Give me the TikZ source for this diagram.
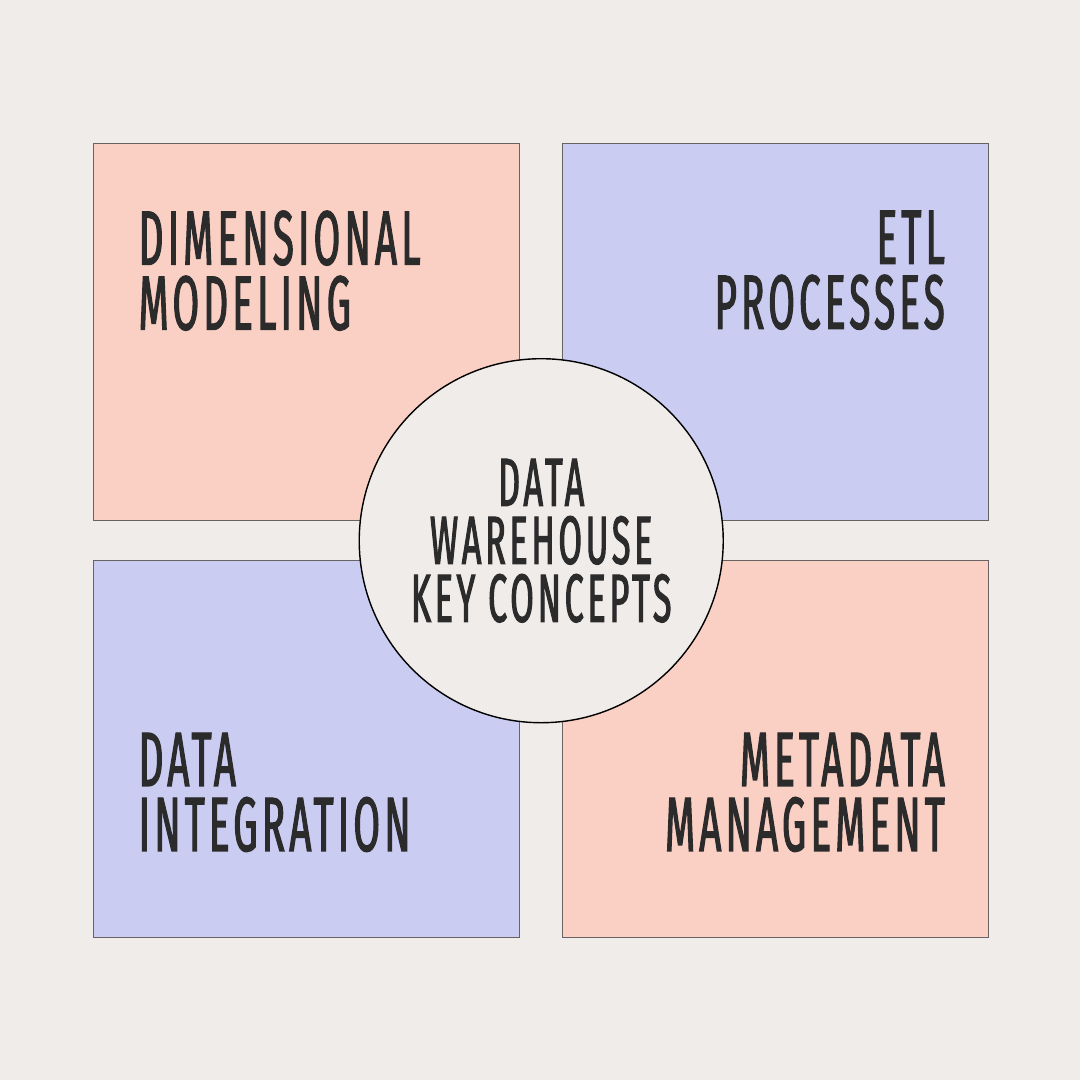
\documentclass[tikz,border=0pt]{standalone}
\usepackage{fontspec}
\newfontfamily\condfont[FakeStretch=0.5,LetterSpace=5.5,FakeBold=1.5]{Fira Sans}
\usetikzlibrary{calc,positioning}
\definecolor{bgcol}{RGB}{240,236,234}
\definecolor{salmon}{RGB}{251,208,196}
\definecolor{lavender}{RGB}{202,204,242}
\definecolor{inkcol}{RGB}{43,43,43}
\definecolor{edgecol}{RGB}{105,98,98}

\begin{document}
\begin{tikzpicture}[box/.style={draw=edgecol, line width=0.35pt, minimum width=4.26cm, minimum height=3.77cm, inner sep=0pt}, lbl/.style={inner sep=0pt, text=inkcol, font=\condfont\fontsize{21.9}{18.5}\selectfont}]

    \fill[bgcol] (0,0) rectangle (10.8,10.8);

    \node[box, fill=salmon, anchor=north west] (dim)   at (0.93,9.37) {};
    \node[box, fill=lavender, right = 0.42cm of dim]   (etl)   {};
    \node[box, fill=lavender, below = 0.39cm of dim]   (integ) {};
    \node[box, fill=salmon, right = 0.42cm of integ]   (meta)  {};

    \node[lbl, align=left, anchor=north west]  (dimtxt)   at ([xshift=0.45cm, yshift=-0.67cm]dim.north west)   {DIMENSIONAL\\MODELING};
    \node[lbl, align=right, anchor=north east] (etltxt)   at ([xshift=-0.44cm, yshift=-0.67cm]etl.north east)  {ETL\\PROCESSES};
    \node[lbl, align=left, anchor=north west]  (integtxt) at ([xshift=0.45cm, yshift=-1.72cm]integ.north west) {DATA\\INTEGRATION};
    \node[lbl, align=right, anchor=north east] (metatxt)  at ([xshift=-0.44cm, yshift=-1.72cm]meta.north east) {METADATA\\MANAGEMENT};

    \node[circle, draw=black, line width=0.4pt, fill=bgcol, minimum size=3.64cm, inner sep=0pt, align=center, text=inkcol, font=\condfont\fontsize{19.4}{16.5}\selectfont] (hub) at ($(dim.south east)!0.5!(meta.north west)$) {DATA\\WAREHOUSE\\KEY CONCEPTS};

\end{tikzpicture}
\end{document}
